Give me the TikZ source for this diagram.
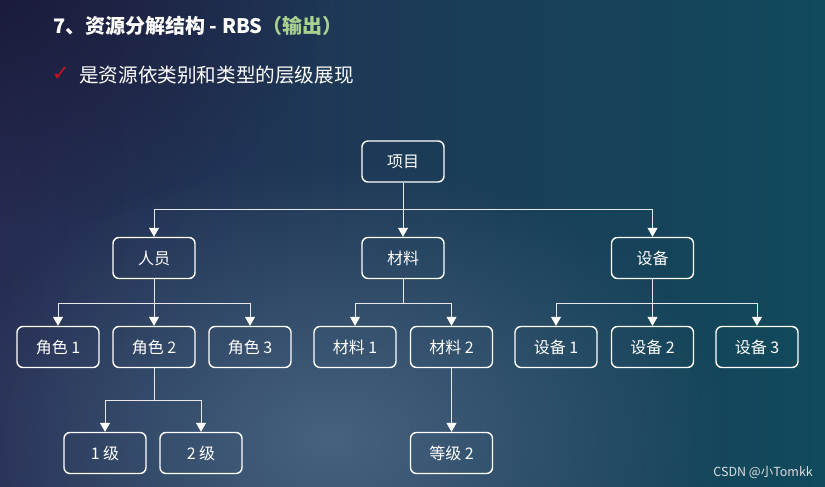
\documentclass[tikz,border=0pt]{standalone}
\usepackage{fontspec}
\setmainfont{Noto Sans CJK SC}
\newfontfamily\dejavu{DejaVu Sans}
\usetikzlibrary{arrows.meta,fadings}
\definecolor{bgL}{HTML}{262C52}
\definecolor{bgR}{HTML}{114A5C}
\definecolor{glowc}{HTML}{46627F}
\definecolor{darkc}{HTML}{1B1C3C}
\definecolor{grn}{HTML}{A9D18E}
\definecolor{chk}{HTML}{C8141E}
\tikzfading[name=glowfade, inner color=transparent!0, outer color=transparent!100]
\begin{document}
\begin{tikzpicture}[x=1pt,y=-1pt,
  box/.style={draw=white, line width=1.4pt, rounded corners=6pt, minimum width=82pt, minimum height=41pt, inner sep=0pt, text=white, font=\fontsize{16}{19}\selectfont},
  conn/.style={draw=white!82!gray, line width=0.8pt, -{Triangle[width=10pt,length=9pt,color=white]}},
  bus/.style={draw=white!82!gray, line width=0.8pt}]
\useasboundingbox (0,0) rectangle (825,487);
\fill[left color=bgL, right color=bgR] (0,0) rectangle (825,487);
\fill[glowc, path fading=glowfade] (330,440) ellipse (400 and 280);
\fill[darkc, path fading=glowfade] (0,0) ellipse (330 and 230);
% title
\node[anchor=base west, inner sep=0pt, text=white, font=\fontsize{20}{23}\selectfont\bfseries] (title) at (53,34) {7、资源分解结构 - RBS\textcolor{grn}{（输出）}};
\node[inner sep=0pt, text=chk, font=\dejavu\fontsize{21}{23}\selectfont] (chk) at (61,74) {✓};
\node[anchor=base west, inner sep=0pt, text=white, font=\fontsize{19.6}{23}\selectfont] (sub) at (79,82) {是资源依类别和类型的层级展现};
\node[anchor=base east, inner sep=0pt, text=white!75!gray, font=\fontsize{12.5}{14}\selectfont] (wm) at (813,476) {CSDN @小Tomkk};
% nodes
\node[box] (proj) at (403,161.5) {项目};
\node[box] (pers) at (154,258) {人员};
\node[box] (mat) at (403,258) {材料};
\node[box] (equ) at (652.5,258) {设备};
\node[box] (r1) at (58,347) {角色 1};
\node[box] (r2) at (154,347) {角色 2};
\node[box] (r3) at (250,347) {角色 3};
\node[box] (m1) at (355,347) {材料 1};
\node[box] (m2) at (451.5,347) {材料 2};
\node[box] (e1) at (556,347) {设备 1};
\node[box] (e2) at (652.5,347) {设备 2};
\node[box] (e3) at (757,347) {设备 3};
\node[box] (l1) at (105,453) {1 级};
\node[box] (l2) at (201,453) {2 级};
\node[box] (g2) at (451.5,453) {等级 2};
% bus points
\coordinate (bp) at (403,209);
\coordinate (bpe) at (154,303);
\coordinate (bm) at (403,303);
\coordinate (be) at (652.5,303);
\coordinate (br) at (154,400);
% connectors
\draw[bus] (proj.south) -- (bp);
\draw[conn] (bp) -- (mat.north);
\draw[conn] (bp) -| (pers.north);
\draw[conn] (bp) -| (equ.north);
\draw[bus] (pers.south) -- (bpe);
\draw[conn] (bpe) -- (r2.north);
\draw[conn] (bpe) -| (r1.north);
\draw[conn] (bpe) -| (r3.north);
\draw[bus] (mat.south) -- (bm);
\draw[conn] (bm) -| (m1.north);
\draw[conn] (bm) -| (m2.north);
\draw[bus] (equ.south) -- (be);
\draw[conn] (be) -- (e2.north);
\draw[conn] (be) -| (e1.north);
\draw[conn] (be) -| (e3.north);
\draw[bus] (r2.south) -- (br);
\draw[conn] (br) -| (l1.north);
\draw[conn] (br) -| (l2.north);
\draw[conn] (m2.south) -- (g2.north);
\end{tikzpicture}
\end{document}
